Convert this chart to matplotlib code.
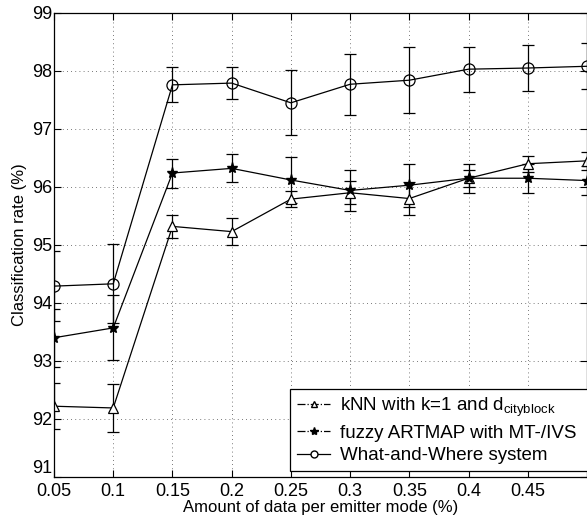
import matplotlib
matplotlib.use("Agg")
import matplotlib.pyplot as plt
from matplotlib.lines import Line2D

plt.rcParams['font.family'] = ['Liberation Sans', 'DejaVu Sans']
plt.rcParams['mathtext.fontset'] = 'custom'
plt.rcParams['mathtext.rm'] = 'Liberation Sans'

x = [0.05, 0.1, 0.15, 0.2, 0.25, 0.3, 0.35, 0.4, 0.45, 0.5]
knn = [92.22, 92.19, 95.32, 95.23, 95.79, 95.9, 95.8, 96.15, 96.4, 96.45]
knn_err = [0.4, 0.41, 0.2, 0.23, 0.14, 0.2, 0.28, 0.15, 0.14, 0.15]
art = [93.4, 93.57, 96.24, 96.32, 96.12, 95.94, 96.03, 96.15, 96.15, 96.11]
art_err = [0.5, 0.56, 0.25, 0.24, 0.4, 0.36, 0.37, 0.25, 0.25, 0.25]
ww = [94.29, 94.33, 97.76, 97.79, 97.45, 97.77, 97.84, 98.03, 98.05, 98.08]
ww_err = [0.6, 0.68, 0.3, 0.28, 0.56, 0.53, 0.57, 0.39, 0.39, 0.4]

xticks = [0.05, 0.1, 0.15, 0.2, 0.25, 0.3, 0.35, 0.4, 0.45]
xticklabels = ['0.05', '0.1', '0.15', '0.2', '0.25', '0.3', '0.35', '0.4', '0.45']
yticks = [91, 92, 93, 94, 95, 96, 97, 98, 99]

labels = [r'kNN with k=1 and d$_{\mathrm{cityblock}}$',
          'fuzzy ARTMAP with MT-/IVS',
          'What-and-Where system']

fig = plt.figure(figsize=(5.87, 5.27), dpi=100)
ax = fig.add_axes([0.092, 0.0949, 0.908, 0.8806])

kw = dict(color='black', lw=0.9, capsize=4, elinewidth=0.9, capthick=0.9)
ax.errorbar(x, knn, yerr=knn_err, marker='^', ms=7, mfc='white', mec='black', mew=0.9, **kw)
ax.errorbar(x, art, yerr=art_err, marker='*', ms=8, mfc='black', mec='black', **kw)
ax.errorbar(x, ww, yerr=ww_err, marker='o', ms=8, mfc='none', mec='black', mew=0.9, **kw)

ax.set_xlim(0.05, 0.5)
ax.set_ylim(91, 99)
ax.set_xticks(xticks)
ax.set_xticklabels(xticklabels)
ax.set_yticks(yticks)
ax.tick_params(direction='in', top=True, right=True, labelsize=13, length=5)
ax.tick_params(axis='x', pad=4)
ax.tick_params(axis='y', pad=1)
ax.get_yticklabels()[0].set_verticalalignment('bottom')
ax.grid(True, linestyle=(0, (1, 4)), color='black', lw=0.6, alpha=0.7)
for s in ax.spines.values():
    s.set_linewidth(0.9)

ax.set_xlabel('Amount of data per emitter mode (%)', fontsize=12, labelpad=0)
ax.set_ylabel('Classification rate (%)', fontsize=12, labelpad=4)

handles = [
    Line2D([], [], color='black', lw=0.9, ls='-.', marker='^', ms=5, mfc='white'),
    Line2D([], [], color='black', lw=0.9, ls='-.', marker='*', ms=6, mfc='black'),
    Line2D([], [], color='black', lw=0.9, ls='-', marker='o', ms=5, mfc='white'),
]
leg = ax.legend(handles, labels, loc='lower left', bbox_to_anchor=(0.443, 0.013, 0.575, 0.2),
                mode='expand',
                fontsize=13.5, fancybox=False, framealpha=1, edgecolor='black',
                handlelength=1.8, handletextpad=0.5, borderpad=0.35, labelspacing=0.3,
                borderaxespad=0)
leg.get_frame().set_linewidth(0.9)
leg.set_clip_on(False)

fig.savefig('out.png', dpi=100)
